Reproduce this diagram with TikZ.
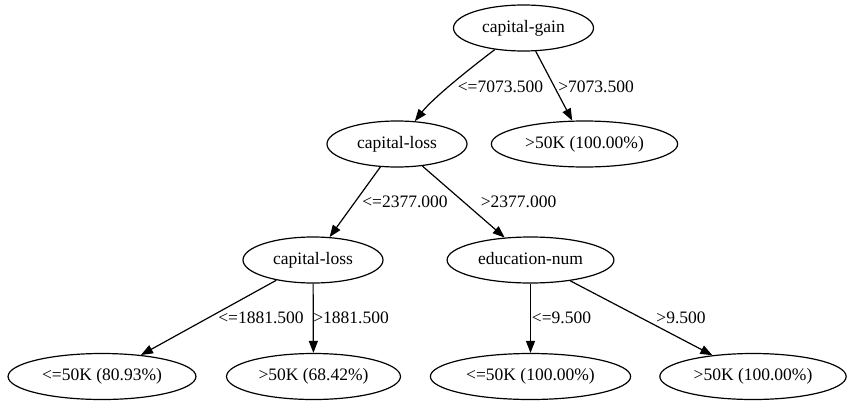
\documentclass[tikz,border=0pt]{standalone}
\usepackage{fontspec}
\setmainfont{Liberation Serif}
\usetikzlibrary{positioning,shapes.geometric,arrows.meta}

\tikzset{
	treenode/.style={draw, ellipse, line width=1.2pt, minimum width=140pt, minimum height=46pt,
		inner xsep=6.5pt, inner ysep=1pt, text height=12.5pt, text depth=4pt,
		font=\fontsize{17.5}{20}\selectfont},
	edgelabel/.style={inner sep=0pt, font=\fontsize{17.5}{20}\selectfont},
	branch/.style={line width=1.2pt, -{Triangle[length=12pt,width=9pt]}}
}

\begin{document}
\begin{tikzpicture}[x=1pt, y=-1pt]
	\useasboundingbox (0,0) rectangle (854,407);
	
	% Root split
	\node[treenode] (gain) at (523.5,28) {capital-gain};
	
	% Second level
	\node[treenode] (loss1) at (397,144) {capital-loss};
	\node[treenode] (leafgain) at (584.5,144) {>50K (100.00\%)};
	
	% Third level
	\node[treenode] (loss2) at (313,260) {capital-loss};
	\node[treenode] (edu) at (530.5,260) {education-num};
	
	% Leaves
	\node[treenode] (leafa) at (102,376.5) {<=50K (80.93\%)};
	\node[treenode] (leafb) at (313.5,376.5) {>50K (68.42\%)};
	\node[treenode] (leafc) at (530.5,376.5) {<=50K (100.00\%)};
	\node[treenode] (leafd) at (753,376.5) {>50K (100.00\%)};
	
	% Branches
	\draw[branch] (gain) to[out=-143, in=52, looseness=0.7] (loss1);
	\draw[branch] (gain) -- (leafgain);
	\draw[branch] (loss1) -- (loss2);
	\draw[branch] (loss1) -- (edu);
	\draw[branch] (loss2) -- (leafa);
	\draw[branch] (loss2) -- (leafb);
	\draw[branch] (edu) -- (leafc);
	\draw[branch] (edu) -- (leafd);
	
	% Split thresholds
	\node[edgelabel] (lgain1) at (500.5,87) {<=7073.500};
	\node[edgelabel] (lgain2) at (596,87) {>7073.500};
	\node[edgelabel] (lloss1) at (405,202) {<=2377.000};
	\node[edgelabel] (lloss2) at (518.5,202) {>2377.000};
	\node[edgelabel] (lloss3) at (261,318) {<=1881.500};
	\node[edgelabel] (lloss4) at (351,318) {>1881.500};
	\node[edgelabel] (ledu1) at (561.5,318) {<=9.500};
	\node[edgelabel] (ledu2) at (681,318) {>9.500};
	
\end{tikzpicture}
\end{document}
